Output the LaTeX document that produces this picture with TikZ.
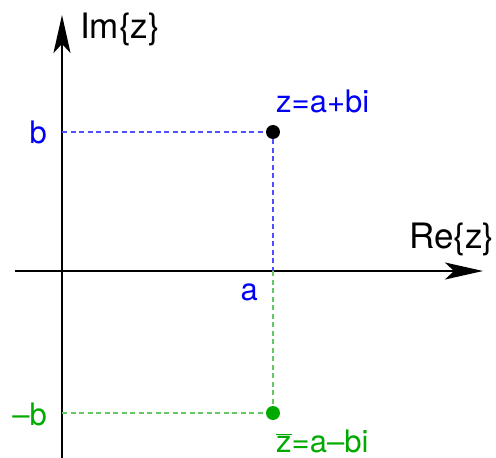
\documentclass[tikz,border=0pt]{standalone}
\usepackage{fontspec}
\setmainfont{TeX Gyre Heros}
\usepackage{tikz}
\usetikzlibrary{arrows.meta,positioning}
\definecolor{zblue}{RGB}{0,0,245}
\definecolor{zgreen}{RGB}{0,170,0}
\definecolor{dashblue}{RGB}{80,80,250}
\definecolor{dashgreen}{RGB}{100,200,100}

\begin{document}
\begin{tikzpicture}[
  x=1pt,y=-1pt,
  font=\fontsize{31}{36}\selectfont,
  axis/.style={line width=2.2pt,-{Stealth[length=38pt,width=17pt,inset=9pt]}},
  guide/.style={line width=1.2pt,dash pattern=on 5pt off 3.5pt},
  lbl/.style={inner sep=0pt},
  axlbl/.style={inner sep=0pt,font=\fontsize{35}{40}\selectfont},
  dot/.style={circle,inner sep=0pt,minimum size=14pt}
]
\useasboundingbox (0,0) rectangle (496,458);
% axes
\coordinate (xl) at (15,271);
\coordinate (xr) at (483,271);
\coordinate (yb) at (62,458);
\coordinate (yt) at (62,15);
\draw[axis] (xl) -- (xr);
\draw[axis] (yb) -- (yt);
% feet on the axes
\coordinate (bY) at (62,132);
\coordinate (aX) at (273,271);
\coordinate (nbY) at (62,413);
\node[dot,fill=black] (z) at (273,132) {};
\node[dot,fill=zgreen] (zbar) at (273,413) {};
\draw[guide,dashblue] (bY) -- (z);
\draw[guide,dashblue] (z) -- (aX);
\draw[guide,dashgreen] (aX) -- (zbar);
\draw[guide,dashgreen] (nbY) -- (zbar);
% labels
\node[axlbl,anchor=base west] (im) at (80,38) {Im\{z\}};
\node[axlbl,anchor=base west] (re) at (409,248) {Re\{z\}};
\node[lbl,anchor=base west,text=zblue] (zlbl) at (276,112) {z=a+bi};
\node[lbl,anchor=base east,text=zblue] (blbl) at (47,143) {b};
\node[lbl,anchor=base east,text=zblue] (albl) at (258,300) {a};
\node[lbl,anchor=base east,text=zgreen] (nblbl) at (47,425) {–b};
\node[lbl,anchor=base west,text=zgreen] (zbarlbl) at (276,452) {$\overline{\hbox{z}}$=a–bi};
\end{tikzpicture}
\end{document}
